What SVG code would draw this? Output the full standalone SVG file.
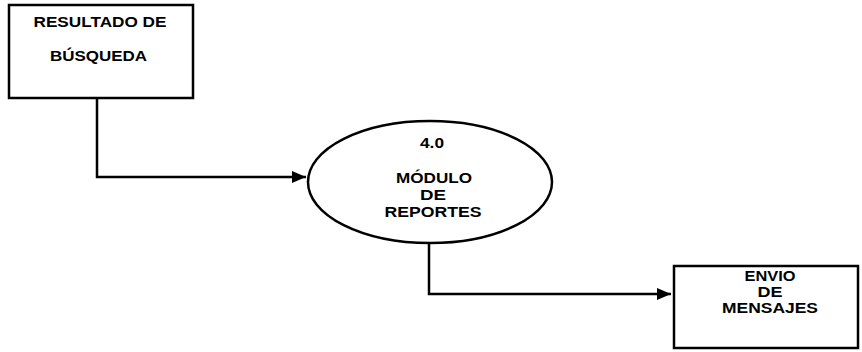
<svg xmlns="http://www.w3.org/2000/svg" width="862" height="352" viewBox="0 0 862 352">
<style>
.shape{fill:#fff;stroke:#000;stroke-width:2.5}
.lbl{font-family:"Liberation Sans",Arial,sans-serif;font-weight:bold;font-size:15px;fill:#000;text-anchor:middle}
.sm{font-size:14px}
.conn{fill:none;stroke:#000;stroke-width:2.5}
</style>
<defs>
<marker id="arr" markerWidth="14" markerHeight="12" refX="14" refY="6" orient="auto" markerUnits="userSpaceOnUse">
<path d="M0,0 L14,6 L0,12 Z" fill="#000"/>
</marker>
</defs>
<rect width="862" height="352" fill="#fff"/>
<g id="node-resultado">
<rect class="shape" x="9" y="5" width="184" height="93"/>
<text class="lbl" x="100" y="27" textLength="133" lengthAdjust="spacingAndGlyphs">RESULTADO DE</text>
<text class="lbl" x="98.5" y="61" textLength="97" lengthAdjust="spacingAndGlyphs">BÚSQUEDA</text>
</g>
<g id="node-modulo">
<ellipse class="shape" cx="430" cy="182" rx="122" ry="61"/>
<text class="lbl" x="432" y="148" textLength="24" lengthAdjust="spacingAndGlyphs">4.0</text>
<text class="lbl sm" x="434" y="183" textLength="76" lengthAdjust="spacingAndGlyphs">MÓDULO</text>
<text class="lbl sm" x="433" y="200" textLength="26" lengthAdjust="spacingAndGlyphs">DE</text>
<text class="lbl sm" x="433" y="217" textLength="97" lengthAdjust="spacingAndGlyphs">REPORTES</text>
</g>
<g id="node-envio">
<rect class="shape" x="674" y="266" width="184" height="82"/>
<text class="lbl sm" x="770" y="281" textLength="51" lengthAdjust="spacingAndGlyphs">ENVIO</text>
<text class="lbl sm" x="770" y="297" textLength="25" lengthAdjust="spacingAndGlyphs">DE</text>
<text class="lbl sm" x="770" y="313" textLength="96" lengthAdjust="spacingAndGlyphs">MENSAJES</text>
</g>
<g id="connectors">
<path class="conn" d="M97,98 V177 H306" marker-end="url(#arr)"/>
<path class="conn" d="M429,243 V294 H671" marker-end="url(#arr)"/>
</g>
</svg>
